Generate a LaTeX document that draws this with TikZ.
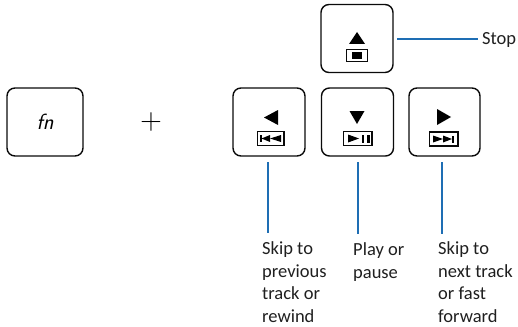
\documentclass[tikz,border=0pt]{standalone}
\usepackage{fontspec}
\setmainfont{Carlito}
\definecolor{leadblue}{RGB}{30,110,180}
\definecolor{inkblack}{RGB}{10,10,10}
\tikzset{
  keycap/.style={draw=inkblack,line width=1.4pt,rounded corners=8pt,fill=white,minimum width=#1,minimum height=68pt,inner sep=0pt,outer sep=0pt},
  leader/.style={draw=leadblue,line width=1.2pt},
  caption/.style={anchor=north west,align=left,inner sep=0pt,font=\fontsize{18.5}{22.6}\selectfont,text=black!88},
  iconbox/.style={draw=inkblack,line width=1.1pt,fill=white},
  solid ink/.style={fill=black,draw=none}
}
\begin{document}
\begin{tikzpicture}[x=1pt,y=-1pt]
\useasboundingbox (0,0) rectangle (518,326);
% keys
\node[keycap=76pt] (fn) at (45,122) {\fontsize{22}{24}\selectfont\sffamily\itshape fn};
\node[keycap=72pt] (stop) at (357,38.5) {};
\node[keycap=72pt] (prev) at (269,122) {};
\node[keycap=72pt] (play) at (357.5,122) {};
\node[keycap=71pt] (next) at (444.5,122) {};
\node[inner sep=0pt] (plus) at (151,122) {\fontsize{30}{30}\selectfont\sffamily +};
% stop icon
\fill[solid ink] (349,44) -- (357,32) -- (365,44) -- cycle;
\draw[iconbox] (346.5,49.5) rectangle (367.5,61.5);
\fill[solid ink] (352,52) rectangle (362,59);
% prev icon
\fill[solid ink] (264,117.5) -- (278,110) -- (278,125) -- cycle;
\draw[iconbox] (257.5,131.5) rectangle (284,145.5);
\fill[solid ink] (260,135) rectangle (261.5,142);
\fill[solid ink] (261.5,138.5) -- (270,135) -- (270,142) -- cycle;
\fill[solid ink] (270,138.5) -- (281,135) -- (281,142) -- cycle;
% play icon
\fill[solid ink] (349.5,111) -- (364.5,111) -- (357,124) -- cycle;
\draw[iconbox] (343.5,131.5) rectangle (372,145.5);
\fill[solid ink] (348,134.5) -- (359,138.5) -- (348,142.5) -- cycle;
\fill[solid ink] (362,134.5) rectangle (364,142.5);
\fill[solid ink] (367,134.5) rectangle (369.5,142.5);
% next icon
\fill[solid ink] (437,109) -- (451,117) -- (437,125) -- cycle;
\draw[iconbox] (429.5,132) rectangle (458,146);
\fill[solid ink] (433,135.5) -- (443,139) -- (433,142.5) -- cycle;
\fill[solid ink] (443,135.5) -- (452,139) -- (443,142.5) -- cycle;
\fill[solid ink] (452,135.5) rectangle (454,142.5);
% captions
\node[caption] (stoplabel) at (482,32) {Stop};
\node[caption] (prevlabel) at (262,241.5) {Skip to\\previous\\track or\\rewind};
\node[caption] (playlabel) at (353,242.5) {Play or\\pause};
\node[caption] (nextlabel) at (438,241.5) {Skip to\\next track\\or fast\\forward};
% leader ends
\coordinate (a1) at (397,39);
\coordinate (a2) at (478,39);
\coordinate (b1) at (268,162);
\coordinate (b2) at (268,233);
\coordinate (c1) at (358,162);
\coordinate (c2) at (358,234);
\coordinate (d1) at (442,162);
\coordinate (d2) at (442,234);
\draw[leader] (a1) -- (a2);
\draw[leader] (b1) -- (b2);
\draw[leader] (c1) -- (c2);
\draw[leader] (d1) -- (d2);
\end{tikzpicture}
\end{document}
